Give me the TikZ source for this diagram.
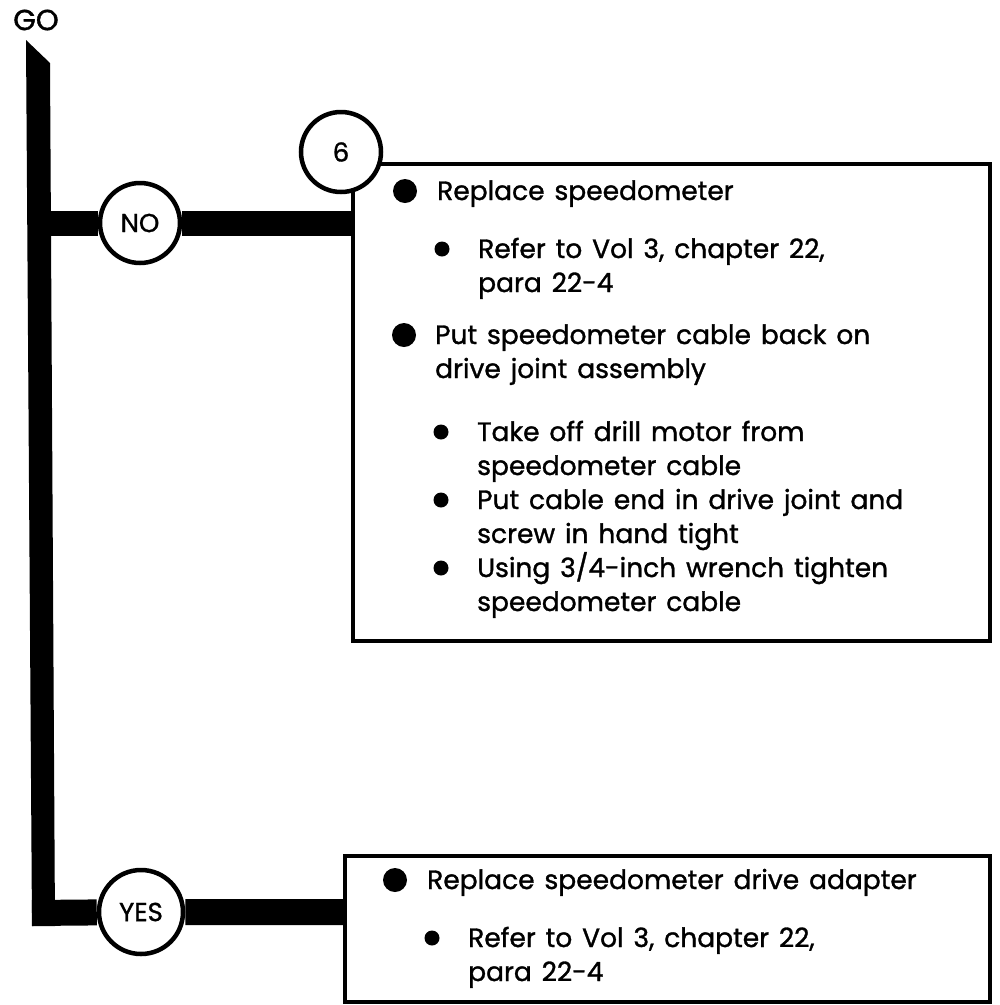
\documentclass[tikz,border=0pt]{standalone}
\usepackage{fontspec}
\setmainfont{Poppins}[FakeBold=1.2,WordSpace=1.4]
\usetikzlibrary{backgrounds}
\begin{document}
\begin{tikzpicture}[x=1pt,y=-1pt,
    bar/.style={line width=25pt},
    ring/.style={circle,draw,line width=4.5pt,fill=white,inner sep=0pt,font=\fontsize{26}{34}\selectfont},
    box/.style={draw,line width=3.5pt,fill=white,inner sep=0pt},
    dot/.style={circle,fill,inner sep=0pt,minimum size=24pt},
    subdot/.style={circle,fill,inner sep=0pt,minimum size=15pt},
    txt/.style={anchor=base west,align=left,inner sep=0pt,font=\fontsize{26.5}{34}\selectfont}]
\useasboundingbox (0,0) rectangle (1000,1005);

\node[box,minimum width=637pt,minimum height=477pt] (fix) at (671.5,402.5) {};
\node[box,minimum width=645pt,minimum height=146pt] (adapter) at (667.5,929) {};
\node[ring,minimum size=80pt] (no) at (140,223) {NO};
\node[ring,minimum size=80pt] (step6) at (341,152) {6};
\node[ring,minimum size=84pt] (yes) at (141,912) {YES};
\node[txt,anchor=center,font=\fontsize{29}{34}\selectfont] (go) at (36,20) {GO};

\coordinate (spineno) at (40,223);
\coordinate (corner) at (32,913);

% top box (two-line nodes sit on their last line)
\node[dot] (d1) at (405,191) {};
\node[txt] (t1) at (437,200) {Replace speedometer};
\node[subdot] (s1) at (442,249) {};
\node[txt] (t2) at (478,292) {Refer to Vol 3, chapter 22,\\para 22-4};
\node[dot] (d2) at (404,335) {};
\node[txt] (t3) at (435,378) {Put speedometer cable back on\\drive joint assembly};
\foreach \y [count=\i] in {432,500,568}
  \node[subdot] (s\i b) at (441,\y) {};
\node[txt] (t4) at (477,475) {Take off drill motor from\\speedometer cable};
\node[txt] (t5) at (477,543) {Put cable end in drive joint and\\screw in hand tight};
\node[txt] (t6) at (477,611) {Using 3/4-inch wrench tighten\\speedometer cable};

% bottom box
\node[dot] (d3) at (395,880) {};
\node[txt] (t7) at (427,889) {Replace speedometer drive adapter};
\node[subdot] (s4) at (432,938) {};
\node[txt] (t8) at (468,981) {Refer to Vol 3, chapter 22,\\para 22-4};

\begin{scope}[on background layer]
  \fill (26,40) -- (50,63) -- (55,926) -- (32,926) -- cycle;
  \draw[bar] (spineno) -- (no) -- (fix.west |- no);
  \draw[bar,line width=26pt] (corner) -- (yes) -- (adapter.west |- yes);
\end{scope}
\end{tikzpicture}
\end{document}
